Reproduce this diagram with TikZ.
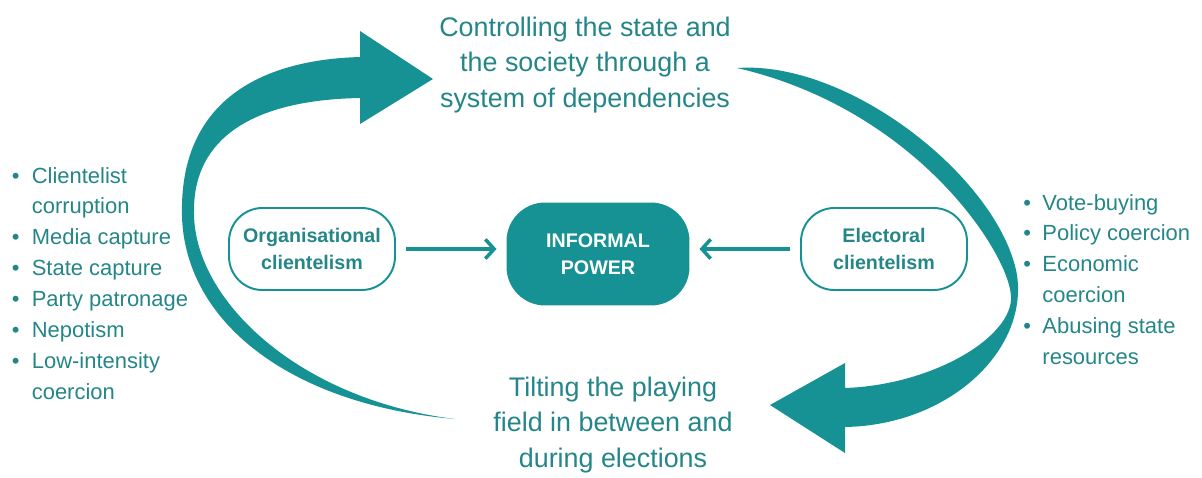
\documentclass[tikz,border=0pt]{standalone}
\usepackage{fontspec}
\setmainfont{Liberation Sans}
\usetikzlibrary{arrows.meta}
\definecolor{tealA}{RGB}{22,146,148}
\definecolor{tealT}{RGB}{36,134,136}
\begin{document}
\begin{tikzpicture}[x=0.02cm,y=-0.02cm,
  bigtext/.style={text=tealT, align=center, font=\fontsize{15.3}{20.3}\selectfont, inner sep=0},
  listtext/.style={text=tealT, font=\fontsize{12.5}{17.6}\selectfont, inner sep=0, anchor=north west},
  outbox/.style={draw=tealA, line width=1.1pt, rounded corners=19pt, minimum width=3.32cm, minimum height=1.64cm, align=center, text=tealT, font=\bfseries\fontsize{11.2}{15.3}\selectfont, inner sep=0},
  fillbox/.style={fill=tealA, rounded corners=22pt, minimum width=3.66cm, minimum height=2.06cm, align=center, text=white, font=\bfseries\fontsize{11.2}{15.3}\selectfont, inner sep=0},
  conn/.style={draw=tealA, line width=2pt, -{Straight Barb[length=5pt,width=11pt]}, shorten >=5.5pt, shorten <=5.5pt},
  bigarrow/.style={fill=tealA}]
\useasboundingbox (0,0) rectangle (1202,477);

% big curved arrows
\fill[bigarrow] (455,419) .. controls (290,405) and (178,320) .. (182,205)
  .. controls (184,105) and (255,60) .. (360,57) -- (360,31) -- (433,79) -- (360,124) -- (360,98)
  .. controls (250,100) and (194,140) .. (194,210)
  .. controls (192,300) and (300,400) .. (455,419) -- cycle;
\fill[bigarrow] (737,68) .. controls (850,60) and (1000,180) .. (1017,275)
  .. controls (1028,350) and (950,425) .. (845,427) -- (845,453) -- (770,405) -- (845,363) -- (845,388)
  .. controls (930,385) and (1008,340) .. (1011,300)
  .. controls (1014,260) and (920,110) .. (737,68) -- cycle;

% texts
\node[bigtext] (top) at (585,65) {Controlling the state and\\the society through a\\system of dependencies};
\node[bigtext] (bot) at (613,425) {Tilting the playing\\field in between and\\during elections};

\node[listtext] (leftlist) at (11.5,161) {\begin{tabular}{@{}l@{\hspace{7pt}}l@{}}
\textbullet & Clientelist\\
 & corruption\\
\textbullet & Media capture\\
\textbullet & State capture\\
\textbullet & Party patronage\\
\textbullet & Nepotism\\
\textbullet & Low-intensity\\
 & coercion
\end{tabular}};
\node[listtext] (rightlist) at (1023,188) {\begin{tabular}{@{}l@{\hspace{6.5pt}}l@{}}
\textbullet & Vote-buying\\
\textbullet & Policy coercion\\
\textbullet & Economic\\
 & coercion\\
\textbullet & Abusing state\\
 & resources
\end{tabular}};

% boxes
\node[outbox] (org) at (312,249) {Organisational\\clientelism};
\node[fillbox] (inf) at (598,254) {INFORMAL\\POWER};
\node[outbox] (ele) at (884,249) {Electoral\\clientelism};

\draw[conn] (org.east) -- (org.east -| inf.west);
\draw[conn] (ele.west) -- (ele.west -| inf.east);
\end{tikzpicture}
\end{document}
